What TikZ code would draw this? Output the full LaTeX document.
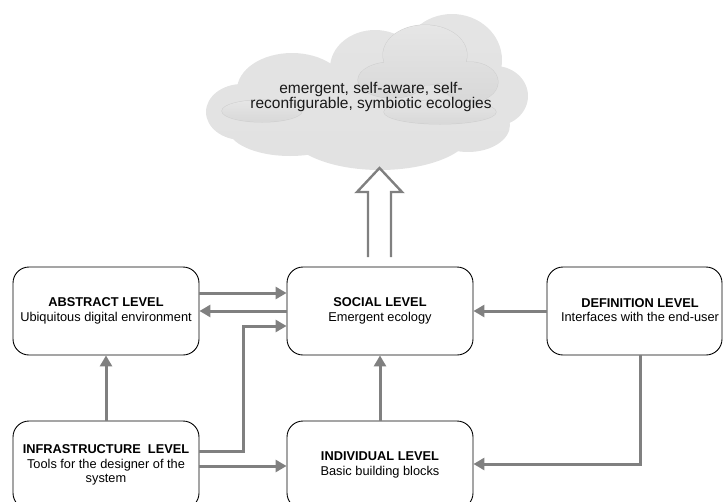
\documentclass[tikz,border=0pt]{standalone}
\usepackage{fontspec}
\setmainfont{Liberation Sans}
\usetikzlibrary{arrows.meta,calc}
\definecolor{arrgray}{HTML}{808080}
\definecolor{cloudtop}{HTML}{E4E4E4}
\definecolor{cloudmid}{HTML}{D2D2D2}
\definecolor{cloudbot}{HTML}{E2E2E2}
\definecolor{innertop}{HTML}{E6E6E6}
\definecolor{innerbot}{HTML}{D8D8D8}
\definecolor{innerline}{HTML}{CFCFCF}
\tikzset{
  levelbox/.style={draw=black, line width=0.9pt, rounded corners=16pt,
    minimum width=186pt, minimum height=88pt, align=center,
    font=\fontsize{12.8}{14.5}\selectfont},
  arr/.style={draw=arrgray, line width=3pt,
    -{Triangle[length=11pt,width=12pt]}},
  hollow/.style={draw=arrgray, line width=2.4pt, line join=miter},
  cloudtext/.style={align=center, font=\fontsize{15.5}{13.5}\selectfont, text=black!90}
}
\begin{document}
\begin{tikzpicture}[x=1pt,y=-1pt]
\useasboundingbox (0,0) rectangle (723,501);
\clip (0,0) rectangle (723,501);

% main cloud
\shade[top color=cloudtop, middle color=cloudmid, bottom color=cloudbot]
  (242,112) ellipse [x radius=36, y radius=28]
  (292,90) ellipse [x radius=55, y radius=37]
  (375,68) ellipse [x radius=45, y radius=38]
  (452,60) ellipse [x radius=50, y radius=46]
  (495,96) ellipse [x radius=33, y radius=30]
  (468,125) ellipse [x radius=42, y radius=27]
  (380,130) ellipse [x radius=92, y radius=40]
  (290,128) ellipse [x radius=62, y radius=28];

% inner lighter clouds (outline trick)
\draw[innerline, line width=1pt]
  (425,55) ellipse [x radius=42, y radius=30]
  (392,80) ellipse [x radius=34, y radius=18]
  (470,82) ellipse [x radius=28, y radius=20]
  (440,112) ellipse [x radius=56, y radius=12]
  (262,111) ellipse [x radius=40, y radius=11];
\shade[top color=innertop, bottom color=innerbot]
  (425,55) ellipse [x radius=42, y radius=30]
  (392,80) ellipse [x radius=34, y radius=18]
  (470,82) ellipse [x radius=28, y radius=20];
\shade[top color=innertop, bottom color=innerbot]
  (440,112) ellipse [x radius=56, y radius=12];
\shade[top color=innertop, bottom color=innerbot]
  (262,111) ellipse [x radius=40, y radius=11];

\node[cloudtext] (cloudlabel) at (371,97)
  {emergent, self-aware, self-\\reconfigurable, symbiotic ecologies};

% boxes
\node[levelbox] (abs) at (106,311) {\textbf{ABSTRACT LEVEL}\\Ubiquitous digital environment};
\node[levelbox] (soc) at (380,311) {\textbf{SOCIAL LEVEL}\\Emergent ecology};
\node[levelbox, minimum width=175pt] (def) at (634.5,311) {};
\node[align=center, font=\fontsize{12.8}{14.5}\selectfont] (deftext) at (640,310)
  {\textbf{DEFINITION LEVEL}\\Interfaces with the end-user};
\node[levelbox] (inf) at (106,465) {\textbf{INFRASTRUCTURE\ \ LEVEL}\\Tools for the designer of the\\system};
\node[levelbox] (ind) at (380,465) {\textbf{INDIVIDUAL LEVEL}\\Basic building blocks};

% hollow arrow to cloud
\coordinate (hl) at (368,257);
\coordinate (hr) at (391,257);
\draw[hollow] (hl) -- (368,192) -- (357,192) -- (379.5,168) -- (402,192) -- (391,192) -- (hr);

% connectors
\draw[arr] (abs.east |- 0,293) -- (soc.west |- 0,293);
\draw[arr] (soc.west) -- (abs.east);
\draw[arr] (inf.east |- 0,451) -- (243,451) -- (243,326) -- (soc.west |- 0,326);
\draw[arr] (inf.east |- 0,466) -- (ind.west |- 0,466);
\draw[arr] (inf.north) -- (abs.south);
\draw[arr] (ind.north) -- (soc.south);
\draw[arr] (def.west) -- (soc.east);
\draw[arr] (640,0 |- def.south) -- (640,464) -- (ind.east |- 0,464);
\end{tikzpicture}
\end{document}
